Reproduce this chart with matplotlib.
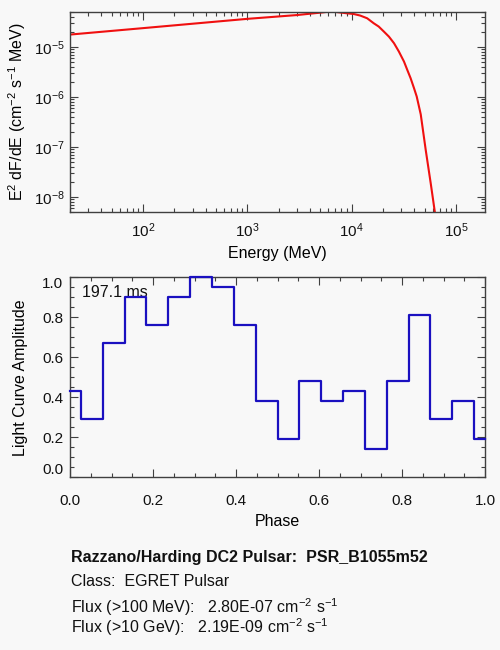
import numpy as np
import matplotlib
matplotlib.use('Agg')
import matplotlib.pyplot as plt
from matplotlib.ticker import MultipleLocator, LogLocator, NullFormatter

plt.rcParams['font.family'] = ['Liberation Sans', 'DejaVu Sans']
plt.rcParams['mathtext.default'] = 'regular'

# spectrum (energy in MeV, E^2 dF/dE)
energy = [20, 100, 1000, 3000, 5400, 6300, 7500, 9000, 10450, 12100, 14100,
          16300, 18200, 20400, 22800, 25500, 28400, 31800, 34200, 36800,
          39700, 42100, 46000, 51400, 57400, 62800, 65000]
e2dfde = [1.77e-5, 2.38e-5, 3.65e-5, 4.35e-5, 4.94e-5, 5.15e-5, 4.94e-5,
          4.72e-5, 4.57e-5, 4.25e-5, 3.75e-5, 2.98e-5, 2.56e-5, 2.03e-5,
          1.61e-5, 1.19e-5, 8.1e-6, 5.1e-6, 3.47e-6, 2.37e-6, 1.49e-6,
          1.02e-6, 4.5e-7, 8.6e-8, 1.85e-8, 5.0e-9, 3.0e-9]

# light curve, 20 phase bins
n_bins = 20
amplitude = [0.43, 0.29, 0.67, 0.90, 0.76, 0.90, 1.00, 0.95, 0.76, 0.38,
             0.19, 0.48, 0.38, 0.43, 0.14, 0.48, 0.81, 0.29, 0.38, 0.19]
phase = np.arange(n_bins) / (n_bins - 1)

period_text = '197.1 ms'
info_lines = ['Razzano/Harding DC2 Pulsar:  PSR_B1055m52',
              'Class:  EGRET Pulsar',
              'Flux (>100 MeV):   2.80E-07 cm$^{-2}$ s$^{-1}$',
              'Flux (>10 GeV):   2.19E-09 cm$^{-2}$ s$^{-1}$']

bg = '#f8f8f8'
frame = '#404040'

fig = plt.figure(figsize=(5, 6.5), dpi=100, facecolor=bg)


def style_axes(ax):
    ax.set_facecolor(bg)
    for s in ax.spines.values():
        s.set_color(frame)
        s.set_linewidth(1.0)
    ax.tick_params(which='both', direction='in', top=True, right=True,
                   color=frame, labelsize=11, labelcolor='#111111')
    ax.tick_params(which='major', length=6, width=0.8)
    ax.tick_params(which='minor', length=3, width=0.8)


# spectrum panel
ax1 = fig.add_axes([0.14, 0.6738, 0.83, 0.3077])
style_axes(ax1)
ax1.plot(energy, e2dfde, color='#f01010', lw=1.5)
ax1.set_xscale('log')
ax1.set_yscale('log')
ax1.set_xlim(20, 1.9e5)
ax1.set_ylim(5e-9, 5e-5)
ax1.set_xticks([1e2, 1e3, 1e4, 1e5])
ax1.set_yticks([1e-8, 1e-7, 1e-6, 1e-5])
ax1.xaxis.set_minor_locator(LogLocator(base=10, subs=np.arange(2, 10), numticks=20))
ax1.yaxis.set_minor_locator(LogLocator(base=10, subs=np.arange(2, 10), numticks=20))
ax1.xaxis.set_minor_formatter(NullFormatter())
ax1.yaxis.set_minor_formatter(NullFormatter())
ax1.tick_params(axis='x', pad=7)
ax1.tick_params(axis='y', pad=4)
ax1.set_xlabel('Energy (MeV)', fontsize=11.5, labelpad=4)
ax1.set_ylabel('E$^2$ dF/dE (cm$^{-2}$ s$^{-1}$ MeV)', fontsize=11.5, labelpad=4)

# light curve panel
ax2 = fig.add_axes([0.14, 0.2657, 0.83, 0.3077])
style_axes(ax2)
ax2.plot(phase, amplitude, drawstyle='steps-mid', color='#1a10c0', lw=1.6,
         clip_on=False, zorder=5)
ax2.set_xlim(0, 1)
ax2.set_ylim(0, 1)
ax2.set_xticks(np.arange(0, 1.01, 0.2))
ax2.set_yticks(np.arange(0, 1.01, 0.2))
ax2.xaxis.set_minor_locator(MultipleLocator(0.05))
ax2.yaxis.set_minor_locator(MultipleLocator(0.05))
ax2.xaxis.set_major_formatter(plt.FormatStrFormatter('%.1f'))
ax2.yaxis.set_major_formatter(plt.FormatStrFormatter('%.1f'))
ax2.tick_params(axis='x', pad=12)
ax2.tick_params(axis='y', pad=5)
ylabs = ax2.get_yticklabels()
ylabs[0].set_va('bottom')
ylabs[-1].set_va('top')
ax2.set_xlabel('Phase', fontsize=11.5, labelpad=4)
ax2.set_ylabel('Light Curve Amplitude', fontsize=11.5, labelpad=10)
ax2.text(0.028, 0.923, period_text, transform=ax2.transAxes, fontsize=11.5,
         ha='left', va='center', color='#111111')

# info text below the panels
ys = [557.3, 581.7, 606.8, 627.2]
for i, line in enumerate(info_lines):
    fig.text(71 / 500, 1 - ys[i] / 650, line, fontsize=11.5, ha='left', va='center',
             fontweight='bold' if i == 0 else 'normal', color='#111111')

fig.savefig('out.png', dpi=100, facecolor=bg)
